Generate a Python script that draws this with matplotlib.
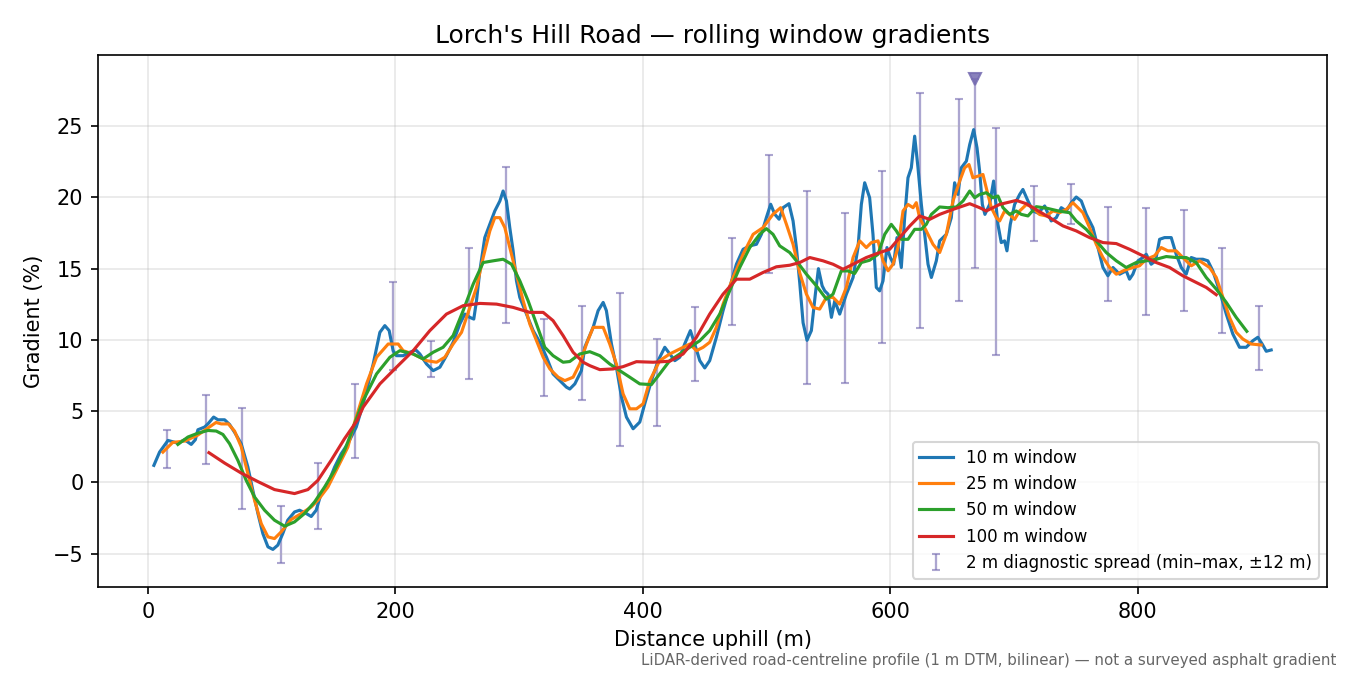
import numpy as np
import matplotlib
matplotlib.use("Agg")
import matplotlib.pyplot as plt

# 10 m window
d10 = [4.8, 9.4, 16.2, 24.2, 29.6, 35, 38.3, 40.4, 45.8, 48.5, 53.1, 56.6, 62, 66, 70, 75.4,
       80.8, 84.8, 88.9, 92.9, 97, 101, 105, 109, 113, 118.5, 122.6, 128, 132, 136, 140, 145.5,
       150.9, 156.2, 161.6, 168.4, 174, 182.1, 187.5, 191.5, 195, 198.2, 200.9, 206.3, 211.7,
       216.6, 219.8, 225.2, 230.6, 236, 241.3, 246.7, 252.1, 256.2, 260.2, 263.4, 265.6, 268.3,
       272.3, 276.4, 280.4, 284.5, 287.1, 289.8, 292.5, 295.2, 297.9, 300.6, 306, 311.4, 316.8,
       322.2, 327.5, 332.9, 338.3, 341, 345.1, 350.4, 353.1, 359.9, 363.9, 368, 370.6, 374.7,
       378.7, 382.8, 386.8, 392.2, 397.6, 401.6, 407, 412.4, 417.8, 421.8, 425.9, 429.9, 433.9,
       438.5, 442, 446.1, 450.1, 454.1, 459.5, 464.9, 470.3, 475.7, 481.1, 486.5, 491.9, 495.9,
       499.9, 503.4, 506.7, 510.2, 513.4, 518.2, 521.5, 524.2, 526.9, 529.6, 532.8, 536.3, 539.5,
       542, 545, 547.1, 549.8, 552.5, 555.2, 559.2, 564.6, 570, 574, 576.7, 579.4, 583.4, 586.1,
       588.8, 591.5, 594.2, 597.4, 600.1, 602.8, 605.5, 609, 611.7, 614.4, 617.1, 619.8, 622.5,
       625.2, 627.9, 630.6, 633.3, 637.3, 640, 645.4, 649.4, 652.1, 654.8, 657.5, 661.6, 664.3,
       667.5, 670.2, 672.3, 674.5, 676.6, 680.4, 683.6, 687.1, 689.8, 692.5, 694.4, 697.1, 700.6,
       704.7, 707.3, 711.4, 715.4, 719.5, 724.9, 730.2, 734.3, 738.3, 742.4, 746.4, 750.4, 754.5,
       758.5, 763.9, 768, 772, 776, 780.1, 785.5, 790.8, 793.5, 796.2, 800.3, 804.3, 807, 811,
       814.5, 817.8, 821.8, 827.2, 831.2, 835.3, 839.3, 843.4, 847.4, 852.8, 856.8, 860.8, 866.2,
       871.7, 877, 882.4, 887.8, 893.2, 897.2, 900.7, 904, 908]
g10 = [1.19, 2.12, 2.94, 2.75, 2.99, 2.66, 2.99, 3.69, 3.88, 4.1, 4.58, 4.39, 4.39, 4.06, 3.52, 2.71,
       1.07, -0.56, -2.19, -3.6, -4.53, -4.71, -4.41, -3.6, -2.66, -2.08, -1.96, -2.19, -2.4, -1.96,
       -0.79, -0.1, 1.07, 2.0, 2.71, 3.88, 5.51, 8.31, 10.53, 11.0, 10.65, 9.24, 8.89, 8.89, 9.13,
       9.29, 9.01, 8.31, 7.84, 8.08, 8.89, 9.83, 11.11, 11.81, 11.58, 11.46, 12.75, 14.85, 17.18,
       18.12, 19.05, 19.75, 20.45, 19.75, 17.88, 16.25, 14.15, 12.98, 11.81, 10.65, 9.83, 8.78,
       7.61, 7.14, 6.68, 6.55, 6.91, 7.84, 9.48, 10.88, 12.05, 12.63, 12.05, 9.71, 8.08, 5.98,
       4.58, 3.76, 4.23, 5.51, 7.14, 8.54, 9.48, 9.01, 8.54, 8.78, 9.71, 10.65, 9.71, 8.54, 8.03,
       8.54, 10.18, 12.05, 13.68, 15.31, 16.36, 16.6, 16.71, 17.41, 18.58, 19.52, 18.82, 18.47,
       19.28, 19.56, 18.35, 16.48, 14.0, 11.2, 9.97, 10.65, 13.2, 15.0, 13.8, 13.44, 13.21, 11.58,
       12.74, 11.81, 13.21, 14.38, 16.48, 19.51, 21.03, 19.98, 17.41, 13.68, 13.44, 14.14, 16.48,
       15.78, 15.31, 17.18, 15.08, 18.58, 21.38, 22.08, 24.3, 22.08, 19.51, 17.41, 15.31, 14.38,
       15.55, 16.95, 17.41, 18.58, 21.03, 20.21, 22.08, 22.55, 23.71, 24.76, 23.48, 21.85, 19.51,
       18.81, 19.51, 21.15, 18.11, 16.83, 16.95, 16.25, 18.11, 19.51, 20.21, 20.56, 19.75, 19.05,
       18.9, 19.4, 18.35, 18.58, 19.28, 19.05, 19.63, 20.03, 19.75, 18.82, 17.88, 16.48, 15.08,
       14.5, 15.08, 14.61, 14.85, 14.26, 14.61, 15.55, 15.78, 16.01, 15.31, 15.55, 17.06, 17.18,
       17.18, 16.01, 15.08, 14.61, 15.78, 15.66, 15.66, 15.55, 14.85, 13.45, 11.81, 10.41, 9.48,
       9.48, 9.94, 10.18, 9.71, 9.2, 9.29]

# 25 m window
d25 = [12.1, 20, 30, 40, 50, 55, 59.3, 65, 70, 75.4, 80.8, 86.2, 91.6, 97, 102.3, 107.7, 115.8,
       124, 132, 137.4, 145.5, 153.5, 161.6, 165.9, 176.7, 184.8, 194.2, 202.3, 206.3, 214.4,
       225.2, 233.3, 240, 246.7, 253.5, 260.2, 265.6, 271, 276.4, 280.4, 284.5, 288.5, 292.5,
       297.9, 303.3, 308.7, 314.1, 319.5, 324.9, 331.6, 337, 343.7, 349.1, 354.5, 359.9, 368,
       373.3, 378.7, 384.1, 389.5, 394.9, 400.3, 405.7, 413.7, 421.8, 429.9, 438, 443.4, 448.8,
       454.1, 459.5, 464.9, 473, 481.1, 489.2, 497.2, 505.3, 511.5, 516.1, 521.5, 526.9, 532.3,
       537.6, 543, 548.4, 553.8, 559.2, 564.6, 570, 575.4, 580.7, 584.8, 590.2, 594.2, 598.3,
       602.3, 606.3, 610.4, 614.4, 618.5, 621.1, 623.8, 629.2, 634.6, 640, 645.4, 650.8, 656.2,
       660.2, 663.7, 666.9, 671, 675, 678.3, 681.8, 685.8, 688.5, 692.5, 696.6, 700.6, 704.7,
       710.2, 715.4, 720.8, 726.2, 731.6, 737, 742.4, 747.7, 751.8, 755.8, 761.2, 766.6, 772,
       777.4, 782.8, 789.5, 796.2, 801.6, 807, 813.7, 819.1, 824.5, 831.2, 836.6, 843.4, 850.1,
       858.2, 863.6, 869, 874.3, 879.7, 885.1, 891.8, 899.9]
g25 = [2.12, 2.8, 2.9, 3.3, 3.9, 4.2, 4.1, 4.1, 3.6, 2.5, 0.6, -1.26, -2.9, -3.83, -3.95, -3.48,
       -2.61, -2.19, -1.73, -1.26, -0.33, 1.07, 2.47, 3.88, 6.91, 8.78, 9.71, 9.71, 9.24, 9.01,
       8.54, 8.43, 8.78, 9.71, 10.53, 12.28, 13.68, 15.78, 17.65, 18.58, 18.58, 17.88, 16.48,
       14.61, 12.75, 11.11, 9.94, 8.78, 7.96, 7.38, 7.14, 7.38, 8.31, 9.71, 10.88, 10.88, 9.71,
       8.31, 6.21, 5.16, 5.16, 5.51, 7.14, 8.54, 9.01, 9.36, 9.71, 9.24, 9.48, 9.83, 10.88, 12.51,
       14.38, 16.01, 17.41, 17.88, 18.82, 19.28, 18.12, 16.71, 14.7, 13.21, 12.28, 12.16, 12.98,
       12.98, 12.51, 13.68, 15.78, 16.95, 16.48, 16.83, 16.95, 15.55, 14.85, 15.31, 16.48, 19.05,
       19.51, 19.28, 19.63, 18.58, 17.65, 16.71, 16.13, 17.41, 19.75, 21.15, 22.08, 22.31, 21.38,
       21.5, 21.61, 20.45, 19.28, 18.58, 18.35, 19.05, 18.81, 18.46, 19.05, 19.51, 19.28, 18.8,
       18.7, 19.05, 18.93, 19.16, 19.63, 19.28, 18.93, 17.88, 16.71, 15.78, 15.08, 14.61, 14.89,
       15.08, 15.2, 15.66, 15.9, 16.48, 16.25, 16.25, 15.78, 15.2, 15.55, 15.08, 14.38, 12.98,
       11.58, 10.53, 10.06, 9.71, 9.64]

# 50 m window
d50 = [24.2, 32.3, 40.4, 48.5, 55.2, 60.6, 66, 72.7, 79.4, 86.2, 94.3, 102.3, 110.5, 118.5,
       126.6, 134.7, 142.8, 150.9, 158.9, 163.2, 174, 184.8, 195.6, 203.6, 214.4, 222.5, 230.6,
       238.6, 246.7, 254.8, 262.9, 271, 279.1, 287.1, 293.9, 300.6, 307.3, 314.1, 320.8, 327.5,
       335.6, 341, 349.1, 357.2, 365.3, 373.3, 381.4, 389.5, 397.6, 407, 413.7, 421.8, 429.9, 438,
       446.1, 454.1, 462.2, 470.3, 478.4, 486.5, 494.5, 499.9, 505.3, 510.7, 518.8, 524.2, 532.3,
       540.3, 548.4, 553.8, 560.5, 565.9, 571.3, 576.7, 583.4, 590.2, 595.6, 600.9, 605, 609,
       614.4, 619.8, 625.2, 629.2, 633.3, 640, 646.7, 653.5, 658.9, 664.3, 668.3, 672.3, 677.7,
       683.1, 687.1, 691.2, 696.6, 701.9, 706, 711.4, 718.1, 726.2, 737, 745, 750.4, 758.5, 766.6,
       774.7, 782.8, 790.8, 798.9, 807, 815.1, 823.2, 831.2, 839.3, 847.4, 855.5, 863.6, 871.7,
       879.7, 888.3]
g50 = [2.66, 3.18, 3.45, 3.64, 3.6, 3.36, 2.71, 1.54, 0.14, -1.03, -1.96, -2.66, -3.08, -2.78,
       -2.19, -1.38, -0.33, 0.84, 2.24, 3.2, 5.74, 7.61, 8.78, 9.24, 9.01, 8.66, 9.13, 9.48, 10.3,
       12.05, 13.91, 15.43, 15.55, 15.66, 15.31, 14.15, 12.75, 11.11, 9.48, 8.89, 8.43, 8.48,
       9.01, 9.17, 8.89, 8.31, 7.84, 7.38, 6.91, 6.86, 7.61, 8.54, 9.01, 9.48, 9.94, 10.65, 11.81,
       13.45, 15.08, 16.48, 17.41, 17.81, 17.41, 16.6, 16.13, 15.55, 14.61, 13.8, 12.86, 13.21,
       14.84, 14.84, 14.66, 15.43, 15.59, 16.01, 17.41, 18.11, 17.65, 17.06, 17.06, 17.76, 17.76,
       18.11, 18.81, 19.33, 19.28, 19.33, 19.75, 20.45, 19.98, 20.21, 20.33, 19.98, 20.1, 19.28,
       18.81, 19.05, 18.81, 18.7, 19.35, 19.25, 19.03, 18.93, 18.35, 17.76, 16.95, 16.13, 15.55,
       15.08, 15.43, 15.55, 15.66, 15.85, 15.78, 15.78, 15.43, 14.38, 13.56, 12.63, 11.58, 10.6]

# 100 m window
d100 = [49.3, 62, 75.4, 88.9, 102.3, 118.5, 129.3, 137.4, 148.1, 158.9, 169.1, 174, 187.5, 200.9,
        214.4, 227.9, 241.3, 254.8, 268.3, 281.8, 295.2, 308.7, 319.5, 327.5, 335.6, 343.7,
        351.8, 357.2, 365.3, 376, 384.1, 394.9, 408.4, 421.8, 432.6, 443.4, 454.1, 464.9, 475.7,
        486.5, 497.2, 508, 518.8, 526.9, 535, 545.7, 553.8, 561.9, 570, 580.7, 591.5, 599.6,
        607.7, 615.8, 623.8, 631.9, 640, 650.8, 664.3, 672.3, 677.7, 688.5, 702, 710, 720.8,
        728.9, 739.7, 750.4, 761.2, 772, 782.8, 793.5, 804.3, 815.1, 825.9, 836.6, 847.4, 855.5,
        863.6]
g100 = [2.08, 1.35, 0.65, 0.05, -0.51, -0.79, -0.51, 0.14, 1.54, 3.06, 4.34, 5.28, 6.91, 8.08,
        9.24, 10.65, 11.81, 12.4, 12.56, 12.51, 12.28, 11.93, 11.93, 11.35, 10.3, 9.13, 8.43,
        8.19, 7.91, 7.96, 8.12, 8.47, 8.43, 8.5, 9.01, 10.18, 11.81, 13.21, 14.26, 14.26, 14.73,
        15.13, 15.24, 15.43, 15.78, 15.55, 15.31, 14.96, 15.31, 15.78, 16.13, 16.36, 17.18,
        17.99, 18.7, 18.46, 18.81, 19.16, 19.56, 19.28, 19.05, 19.51, 19.79, 19.56, 19.0, 18.58,
        18.0, 17.65, 17.18, 16.83, 16.76, 16.36, 15.9, 15.43, 15.08, 14.5, 14.03, 13.68, 13.17]

# 2 m diagnostic spread (min / max within +-12 m)
spread_x = [15.4, 46.9, 76.0, 107.5, 137.4, 167.3, 198.0, 228.7, 259.4, 289.3, 320.0, 350.7,
            381.4, 411.3, 442.0, 471.9, 501.8, 532.5, 563.2, 593.1, 623.8, 655.4, 668.3, 685.3,
            716.0, 745.9, 775.8, 806.5, 837.2, 867.9, 897.8]
spread_lo = [1.0, 1.3, -1.87, -5.65, -3.27, 1.68, 7.9, 7.42, 7.28, 11.16, 6.09, 5.77, 2.54, 3.95,
             7.14, 11.02, 14.7, 6.9, 7.0, 9.76, 10.8, 12.7, 15.08, 8.92, 16.95, 18.16, 12.7,
             11.72, 12.0, 10.5, 7.86]
spread_hi = [3.64, 6.1, 5.25, -1.68, 1.33, 6.9, 14.08, 9.94, 16.46, 22.15, 11.5, 12.4, 13.3,
             10.08, 12.28, 17.16, 22.97, 20.45, 18.9, 21.85, 27.3, 26.9, 28.3, 24.9, 20.8, 20.96,
             19.35, 19.26, 19.14, 16.48, 12.35]
steepest_x = 668.3
steepest_y = 28.3


def PlotGradients():
    fig, ax = plt.subplots(figsize=(9, 4.5), dpi=150)
    fig.subplots_adjust(left=0.0726, right=0.983, top=0.9185, bottom=0.1304)

    ax.plot(d10, g10, color='#1f77b4', linewidth=1.5, label='10 m window', zorder=2)
    ax.plot(d25, g25, color='#ff7f0e', linewidth=1.5, label='25 m window', zorder=3)
    ax.plot(d50, g50, color='#2ca02c', linewidth=1.5, label='50 m window', zorder=3)
    ax.plot(d100, g100, color='#d62728', linewidth=1.5, label='100 m window', zorder=4)

    lo = np.array(spread_lo)
    hi = np.array(spread_hi)
    mid = (lo + hi) / 2
    ax.errorbar(spread_x, mid, yerr=[mid - lo, hi - mid], fmt='none', ecolor='#756bb1',
                elinewidth=1.1, capsize=2, alpha=0.6,
                label='2 m diagnostic spread (min\u2013max, \u00b112 m)', zorder=1)
    ax.plot([steepest_x], [steepest_y], marker='v', color='#756bb1', markersize=6,
            alpha=0.85, linestyle='none', zorder=5)

    ax.set_title("Lorch's Hill Road \u2014 rolling window gradients")
    ax.set_xlabel('Distance uphill (m)')
    ax.set_ylabel('Gradient (%)')
    ax.grid(alpha=0.3)
    ax.legend(loc='lower right', fontsize=8)

    fig.text(0.99, 0.022,
             'LiDAR-derived road-centreline profile (1 m DTM, bilinear) \u2014 not a surveyed asphalt gradient',
             ha='right', va='center', fontsize=7.2, color='#666666')
    fig.savefig('out.png', dpi=150)


if __name__ == '__main__':
    PlotGradients()
